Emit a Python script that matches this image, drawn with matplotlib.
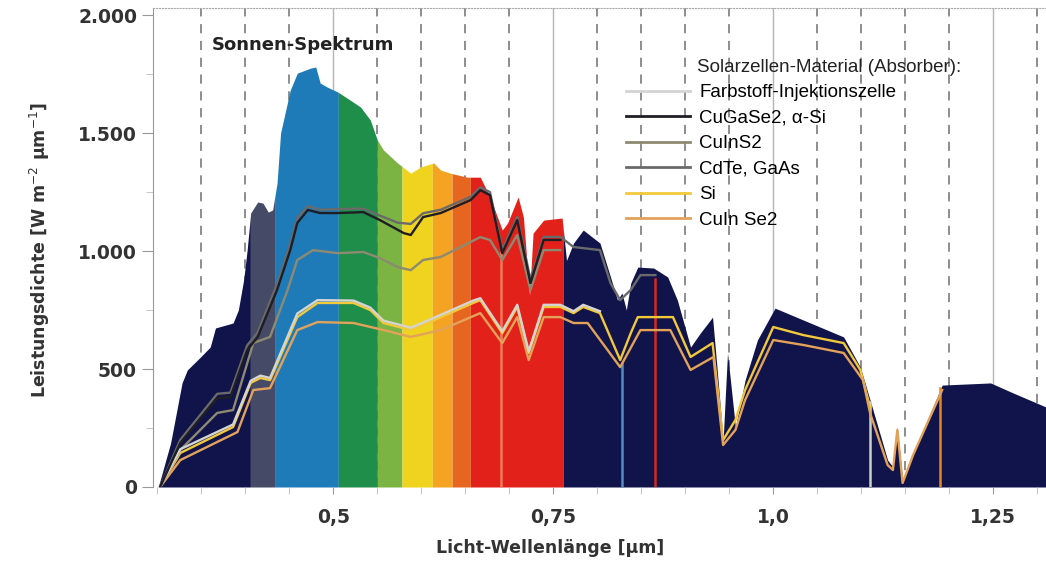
import numpy as np
import matplotlib
matplotlib.use("Agg")
import matplotlib.pyplot as plt

# solar spectrum (wavelength in um, W m^-2 um^-1)
spectrum = [(0.301, 0), (0.315, 186), (0.328, 441), (0.334, 496), (0.349, 551), (0.360, 593),
            (0.366, 674), (0.386, 695), (0.392, 750), (0.398, 877), (0.402, 1004), (0.406, 1161),
            (0.414, 1208), (0.420, 1203), (0.426, 1165), (0.431, 1174), (0.436, 1288), (0.440, 1500),
            (0.451, 1682), (0.459, 1754), (0.474, 1775), (0.480, 1780), (0.485, 1712), (0.493, 1695),
            (0.505, 1674), (0.519, 1640), (0.531, 1610), (0.542, 1555), (0.550, 1470), (0.557, 1428),
            (0.573, 1373), (0.588, 1330), (0.599, 1356), (0.614, 1373), (0.622, 1343), (0.633, 1330),
            (0.652, 1313), (0.667, 1313), (0.678, 1229), (0.692, 1089), (0.698, 1119), (0.710, 1229),
            (0.716, 1144), (0.723, 813), (0.727, 1076), (0.739, 1131), (0.760, 1140), (0.765, 960),
            (0.773, 1034), (0.784, 1089), (0.803, 1034), (0.815, 890), (0.823, 792), (0.828, 822),
            (0.833, 750), (0.838, 864), (0.846, 932), (0.864, 928), (0.880, 890), (0.891, 792),
            (0.906, 593), (0.917, 652), (0.931, 720), (0.936, 508), (0.943, 199), (0.948, 568),
            (0.957, 254), (0.968, 453), (0.982, 623), (1.002, 758), (1.034, 708), (1.080, 636),
            (1.099, 508), (1.110, 369), (1.130, 114), (1.136, 85), (1.141, 254), (1.147, 30),
            (1.159, 144), (1.192, 432), (1.247, 441), (1.273, 398), (1.310, 339)]

# colour bands below the spectrum
band_edges = [0.295, 0.4057, 0.434, 0.5057, 0.55, 0.578, 0.6125, 0.635, 0.6557, 0.761, 1.32]
band_colors = ['#10144a', '#454a66', '#1f7bb8', '#1e8e4a', '#7bb443', '#efd31f',
               '#f4a322', '#e7661f', '#e3211b', '#10144a']

farbstoff = [(0.303, 0), (0.326, 160), (0.386, 265), (0.406, 450), (0.417, 472), (0.428, 462),
             (0.459, 735), (0.482, 792), (0.523, 790), (0.542, 760), (0.557, 705), (0.588, 675),
             (0.607, 705), (0.659, 790), (0.667, 800), (0.692, 660), (0.709, 772), (0.722, 575),
             (0.739, 772), (0.758, 772), (0.773, 745), (0.784, 772), (0.803, 745)]
cugase2 = [(0.303, 0), (0.326, 186), (0.368, 377), (0.383, 381), (0.402, 580), (0.414, 636),
           (0.436, 835), (0.451, 1004), (0.459, 1119), (0.471, 1174), (0.485, 1161), (0.505, 1161),
           (0.534, 1165), (0.553, 1131), (0.580, 1076), (0.588, 1068), (0.602, 1144), (0.622, 1161),
           (0.656, 1216), (0.667, 1258), (0.678, 1237), (0.692, 991), (0.709, 1131), (0.724, 864),
           (0.739, 1047), (0.758, 1047)]
cuins2 = [(0.303, 0), (0.326, 157), (0.368, 314), (0.386, 326), (0.409, 610), (0.428, 636),
          (0.448, 835), (0.459, 962), (0.477, 1004), (0.505, 991), (0.534, 996), (0.553, 970),
          (0.573, 932), (0.588, 919), (0.602, 962), (0.622, 975), (0.667, 1059), (0.678, 1047),
          (0.692, 962), (0.709, 1068), (0.724, 835), (0.739, 1004), (0.758, 1004)]
cdte = [(0.303, 0), (0.326, 200), (0.368, 395), (0.383, 400), (0.402, 600), (0.414, 655),
        (0.436, 860), (0.451, 1030), (0.459, 1140), (0.471, 1190), (0.485, 1175), (0.505, 1178),
        (0.534, 1180), (0.553, 1150), (0.573, 1120), (0.588, 1115), (0.602, 1160), (0.622, 1175),
        (0.656, 1230), (0.667, 1270), (0.678, 1250), (0.692, 1005), (0.709, 1145), (0.724, 880),
        (0.739, 1060), (0.758, 1060), (0.773, 1017), (0.803, 1004), (0.815, 864), (0.826, 792),
        (0.838, 835), (0.849, 898), (0.866, 898)]
si = [(0.303, 0), (0.326, 144), (0.386, 254), (0.406, 441), (0.417, 462), (0.428, 453),
      (0.459, 720), (0.482, 780), (0.523, 780), (0.542, 750), (0.557, 695), (0.588, 665),
      (0.607, 695), (0.659, 780), (0.667, 792), (0.692, 652), (0.709, 763), (0.722, 568),
      (0.739, 763), (0.758, 763), (0.773, 737), (0.784, 763), (0.803, 737), (0.826, 538),
      (0.838, 652), (0.846, 720), (0.886, 720), (0.906, 551), (0.931, 610), (0.943, 199),
      (0.957, 284), (0.968, 411), (1.000, 678), (1.034, 644), (1.080, 610), (1.099, 496),
      (1.110, 339)]
cuinse2 = [(0.303, 0), (0.326, 114), (0.391, 233), (0.409, 411), (0.428, 419), (0.459, 665),
           (0.482, 699), (0.523, 695), (0.557, 665), (0.588, 636), (0.622, 665), (0.667, 737),
           (0.692, 610), (0.709, 720), (0.722, 538), (0.739, 720), (0.758, 720), (0.773, 695),
           (0.789, 695), (0.826, 508), (0.849, 665), (0.883, 665), (0.906, 496), (0.932, 551),
           (0.943, 178), (0.957, 242), (0.968, 369), (1.000, 623), (1.034, 602), (1.080, 568),
           (1.102, 453), (1.110, 314), (1.130, 93), (1.136, 72), (1.141, 242), (1.147, 17),
           (1.159, 136), (1.192, 411)]

series_names = ['Farbstoff-Injektionszelle', 'CuGaSe2, \u03b1-Si', 'CuInS2', 'CdTe, GaAs', 'Si', 'CuIn Se2']
series_data = [farbstoff, cugase2, cuins2, cdte, si, cuinse2]
series_colors = ['#d4d4d4', '#1e1e24', '#8e8a72', '#6a6a6a', '#f2c93a', '#e3a25a']

# band-gap cut-off marks
cutoff_wl = [0.69, 0.828, 0.866, 1.11, 1.19]
cutoff_top = [990, 520, 880, 360, 420]
cutoff_colors = ['#f27a5c', '#4d8fc6', '#d4291e', '#c9d3c2', '#e8871e']

fig = plt.figure(figsize=(10.46, 5.67), dpi=100)
ax = fig.add_axes([153 / 1046, 1 - 487 / 567, 1 - 153 / 1046, (487 - 8) / 567])
ax.set_xlim(0.295, 1.31)
ax.set_ylim(0, 2030)

# vertical guide lines
for w in np.arange(0.35, 1.31, 0.05):
    w = round(w, 2)
    if w in (0.5, 0.75, 1.0, 1.25):
        ax.axvline(w, color='#b5b5b5', lw=1, zorder=0)
    else:
        ax.axvline(w, color='#6f6f6f', lw=1.1, ls=(0, (6, 5)), zorder=0)

sx = np.array([p[0] for p in spectrum])
sy = np.array([p[1] for p in spectrum])
for a, b, c in zip(band_edges[:-1], band_edges[1:], band_colors):
    xs = np.concatenate([[a], sx[(sx > a) & (sx < b)], [b]])
    xs = xs[(xs >= sx[0]) & (xs <= sx[-1])]
    ys = np.interp(xs, sx, sy)
    ax.fill_between(xs, 0, ys, color=c, lw=0, zorder=1)

for w, t, c in zip(cutoff_wl, cutoff_top, cutoff_colors):
    ax.plot([w, w], [0, t], color=c, lw=1.8, zorder=2)

handles = []
order = [4, 5, 2, 0, 3, 1]  # draw lighter lines first
for i in order:
    d = series_data[i]
    ax.plot([p[0] for p in d], [p[1] for p in d], color=series_colors[i], lw=1.7, zorder=3)
for i in range(6):
    h, = ax.plot([], [], color=series_colors[i], lw=2)
    handles.append(h)

ax.spines['right'].set_visible(False)
ax.spines['bottom'].set_visible(False)
ax.spines['left'].set_color('#999999')
ax.spines['top'].set_color('#aaaaaa')
ax.spines['top'].set_linestyle(':')

ax.set_xticks([0.5, 0.75, 1.0, 1.25], ['0,5', '0,75', '1,0', '1,25'])
ax.set_xticks(np.arange(0.3, 1.31, 0.05), minor=True)
ax.set_yticks([0, 500, 1000, 1500, 2000], ['0', '500', '1.000', '1.500', '2.000'])
ax.set_yticks([250, 750, 1250, 1750], minor=True)
ax.tick_params(axis='both', which='major', direction='out', length=8, color='#999999',
               labelsize=13.5, labelcolor='#333333')
ax.tick_params(axis='both', which='minor', direction='out', length=5, color='#bbbbbb')
ax.tick_params(axis='x', which='major', length=5, pad=10)
for lab in ax.get_xticklabels() + ax.get_yticklabels():
    lab.set_fontweight('bold')

fig.text(40 / 1046, 1 - 250 / 567, 'Leistungsdichte [W m$^{-2}$ \u00b5m$^{-1}$]', rotation=90,
         ha='center', va='center', fontsize=12.5, fontweight='bold', color='#333333')
fig.text(550 / 1046, 1 - 548 / 567, 'Licht-Wellenl\u00e4nge [\u00b5m]', ha='center', va='center',
         fontsize=12.5, fontweight='bold', color='#333333')
fig.text(212 / 1046, 1 - 45 / 567, 'Sonnen-Spektrum', ha='left', va='center',
         fontsize=13, fontweight='bold', color='#222222')
fig.text(697 / 1046, 1 - 67 / 567, 'Solarzellen-Material (Absorber):', ha='left', va='center',
         fontsize=13.5, family='Liberation Sans', color='#222222')

ax.legend(handles, series_names, loc='upper left', bbox_to_anchor=(626 / 1046, 1 - 84 / 567),
          bbox_transform=fig.transFigure, frameon=False, borderpad=0, borderaxespad=0,
          handlelength=3.4, handletextpad=0.5, labelspacing=0.45,
          prop={'family': 'Liberation Sans', 'size': 13.5})

fig.savefig('out.png', dpi=100)
